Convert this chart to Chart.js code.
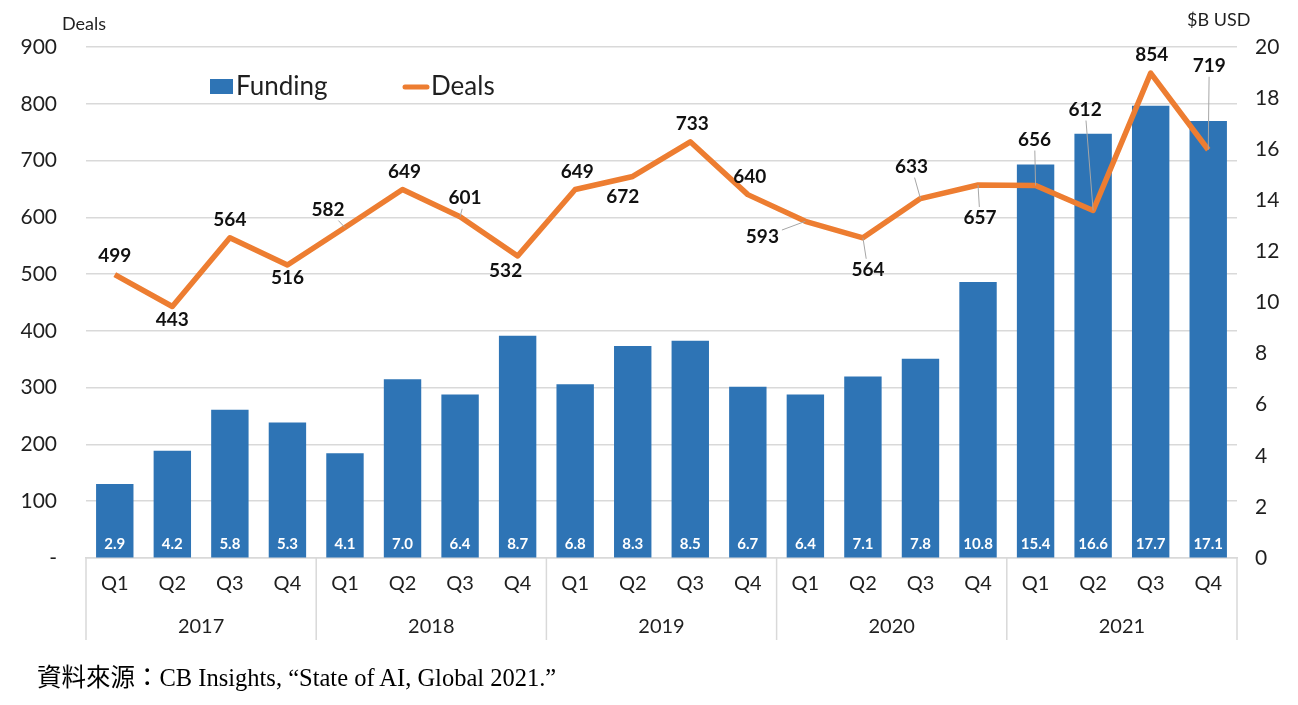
<!DOCTYPE html>
<html>
<head>
<meta charset="utf-8">
<script src="https://cdn.jsdelivr.net/npm/chart.js@4.4.1/dist/chart.umd.min.js"></script>
<style>
  html, body { margin: 0; padding: 0; background: #fff; }
  #wrap { position: relative; width: 1298px; height: 705px; }
  #source {
    position: absolute; left: 37px; top: 658px;
    font: 24.5px "Liberation Serif", "Noto Sans CJK TC", serif;
    color: #000; white-space: nowrap;
  }
</style>
</head>
<body>
<div id="wrap">
  <canvas id="chart" width="1298" height="705"></canvas>
  <div id="source">資料來源：CB Insights, “State of AI, Global 2021.”</div>
</div>
<script>
// ── Data ──
const quarters = ['Q1', 'Q2', 'Q3', 'Q4', 'Q1', 'Q2', 'Q3', 'Q4', 'Q1', 'Q2',
                  'Q3', 'Q4', 'Q1', 'Q2', 'Q3', 'Q4', 'Q1', 'Q2', 'Q3', 'Q4'];
const years = ['2017', '2018', '2019', '2020', '2021'];
const funding = [2.9, 4.2, 5.8, 5.3, 4.1, 7.0, 6.4, 8.7, 6.8, 8.3,
                 8.5, 6.7, 6.4, 7.1, 7.8, 10.8, 15.4, 16.6, 17.7, 17.1];
const deals = [499, 443, 564, 516, 582, 649, 601, 532, 649, 672,
               733, 640, 593, 564, 633, 657, 656, 612, 854, 719];
const dealsAxis = { min: 0, max: 900, step: 100 };
const fundingAxis = { min: 0, max: 20, step: 2 };

// label placement for deal values: [dx, dy, leader line]
const dealLabelPos = [
  [0, -19, 0], [0, 13, 0], [0, -18, 0], [0, 13, 0], [-17, -18, 1],
  [2, -18, 0], [5, -19, 1], [-12, 15, 0], [2, -18, 0], [-10, 20, 0],
  [2, -18, 0], [2, -18, 0], [-43, 16, 1], [5, 32, 1], [-9, -32, 1],
  [2, 33, 1], [-1, -46, 1], [-8, -101, 1], [1, -18, 0], [1, -84, 1]
];

const FONT = 'Lato';
const BLUE = '#2e74b5';
const ORANGE = '#ed7d31';
const GRID = '#d9d9d9';
const TEXT = '#1f1f1f';

// ── Extras: axis titles, legend, value labels, year separators ──
const extrasPlugin = {
  id: 'extras',
  afterDatasetsDraw(chart) {
    const ctx = chart.ctx;
    const area = chart.chartArea;
    const xs = chart.scales.x;

    // year separators under the axis
    ctx.save();
    ctx.strokeStyle = GRID;
    ctx.lineWidth = 1.5;
    for (let i = 0; i <= quarters.length; i += 4) {
      let x;
      if (i === 0) x = area.left;
      else if (i === quarters.length) x = area.right;
      else x = (xs.getPixelForValue(i - 1) + xs.getPixelForValue(i)) / 2;
      ctx.beginPath();
      ctx.moveTo(x, area.bottom);
      ctx.lineTo(x, 640);
      ctx.stroke();
    }
    ctx.restore();

    // funding values inside bars
    const barMeta = chart.getDatasetMeta(0);
    ctx.save();
    ctx.fillStyle = '#fff';
    ctx.font = `bold 15px ${FONT}`;
    ctx.textAlign = 'center';
    ctx.textBaseline = 'middle';
    barMeta.data.forEach((el, i) => {
      ctx.fillText(funding[i].toFixed(1), el.x, area.bottom - 14);
    });
    ctx.restore();

    // deal values with leader lines
    const lineMeta = chart.getDatasetMeta(1);
    ctx.save();
    ctx.font = `bold 19px ${FONT}`;
    ctx.textAlign = 'center';
    ctx.textBaseline = 'middle';
    lineMeta.data.forEach((pt, i) => {
      const [dx, dy, leader] = dealLabelPos[i];
      const lx = pt.x + dx, ly = pt.y + dy;
      const text = String(deals[i]);
      if (leader) {
        const hw = ctx.measureText(text).width / 2 + 3, hh = 11;
        const vx = pt.x - lx, vy = pt.y - ly;
        const t = Math.min(vx ? hw / Math.abs(vx) : Infinity, vy ? hh / Math.abs(vy) : Infinity);
        if (t < 1) {
          ctx.strokeStyle = '#a6a6a6';
          ctx.lineWidth = 1;
          ctx.beginPath();
          ctx.moveTo(lx + vx * t, ly + vy * t);
          ctx.lineTo(pt.x, pt.y);
          ctx.stroke();
        }
      }
      ctx.fillStyle = '#111';
      ctx.fillText(text, lx, ly);
    });
    ctx.restore();
  },
  afterDraw(chart) {
    const ctx = chart.ctx;
    ctx.save();
    // axis titles
    ctx.fillStyle = TEXT;
    ctx.font = `18px ${FONT}`;
    ctx.textBaseline = 'middle';
    ctx.textAlign = 'left';
    ctx.fillText('Deals', 62, 24);
    ctx.fillText('$B USD', 1187, 20);

    // legend
    ctx.fillStyle = BLUE;
    ctx.fillRect(210, 79, 23, 15);
    ctx.strokeStyle = ORANGE;
    ctx.lineWidth = 5;
    ctx.lineCap = 'round';
    ctx.beginPath();
    ctx.moveTo(405, 87);
    ctx.lineTo(427, 87);
    ctx.stroke();
    ctx.fillStyle = TEXT;
    ctx.font = `26px ${FONT}`;
    ctx.fillText('Funding', 236, 87);
    ctx.fillText('Deals', 431, 87);
    ctx.restore();
  }
};

// ── Chart ──
function initChart() {
  const ctx = document.getElementById('chart').getContext('2d');
  new Chart(ctx, {
    data: {
      labels: quarters,
      datasets: [{
        type: 'bar',
        label: 'Funding',
        data: funding,
        yAxisID: 'y1',
        backgroundColor: BLUE,
        borderWidth: 0,
        barPercentage: 0.65,
        categoryPercentage: 1,
        order: 2
      }, {
        type: 'line',
        label: 'Deals',
        data: deals,
        yAxisID: 'y',
        borderColor: ORANGE,
        borderWidth: 5.5,
        borderJoinStyle: 'round',
        pointRadius: 0,
        tension: 0,
        order: 1
      }]
    },
    options: {
      responsive: false,
      animation: false,
      layout: { padding: { top: 47, left: 0, right: 0, bottom: 57 } },
      plugins: { legend: { display: false }, tooltip: { enabled: false } },
      scales: {
        x: {
          position: 'bottom',
          grid: { display: false, drawTicks: false },
          border: { display: true, color: GRID, width: 1.5 },
          ticks: { color: TEXT, font: { family: FONT, size: 20 }, padding: 14, maxRotation: 0, autoSkip: false },
          afterFit: s => { s.height = 46; }
        },
        x2: {
          type: 'category',
          position: 'bottom',
          labels: years,
          offset: true,
          grid: { display: false, drawTicks: false },
          border: { display: false },
          ticks: { color: TEXT, font: { family: FONT, size: 20 }, padding: 11, maxRotation: 0 },
          afterFit: s => { s.height = 44; }
        },
        y: {
          position: 'left',
          min: dealsAxis.min,
          max: dealsAxis.max,
          grid: { color: GRID, lineWidth: 1.5, drawTicks: false },
          border: { display: false },
          ticks: {
            stepSize: dealsAxis.step,
            color: TEXT,
            font: { family: FONT, size: 21 },
            padding: 29,
            callback: v => (v === 0 ? '-' : v)
          },
          afterFit: s => { s.width = 86; }
        },
        y1: {
          position: 'right',
          min: fundingAxis.min,
          max: fundingAxis.max,
          grid: { drawOnChartArea: false, drawTicks: false },
          border: { display: false },
          ticks: {
            stepSize: fundingAxis.step,
            color: TEXT,
            font: { family: FONT, size: 21 },
            padding: 18
          },
          afterFit: s => { s.width = 61; }
        }
      }
    },
    plugins: [extrasPlugin]
  });
}

document.addEventListener('DOMContentLoaded', initChart);
</script>
</body>
</html>
